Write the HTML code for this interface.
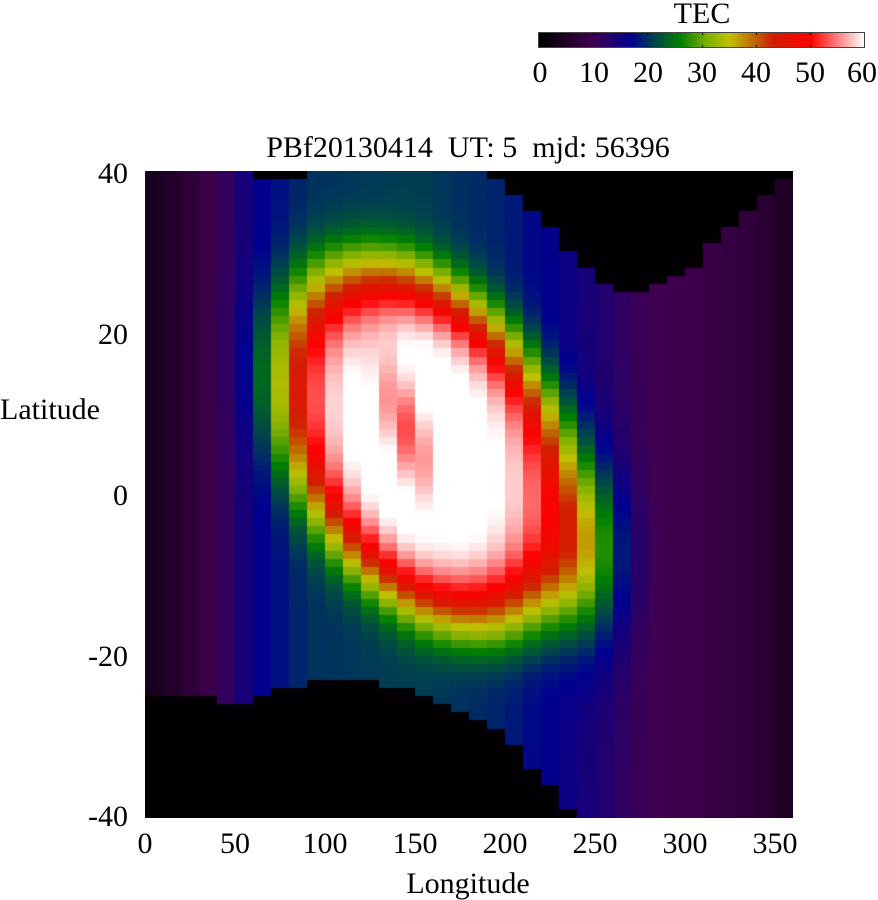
<!DOCTYPE html><html><head><style>
body{margin:0;background:#fff;width:878px;height:900px;position:relative;overflow:hidden;font-family:"Liberation Serif",serif;}
.t{position:absolute;font-size:30px;color:#000;white-space:nowrap;line-height:1;transform:translate(-50%,-50%);}
.r{position:absolute;font-size:30px;color:#000;white-space:nowrap;line-height:1;transform:translate(-100%,-50%);}
canvas{position:absolute;}
</style></head><body>
<canvas id="c" width="648" height="647" style="left:145px;top:171px"></canvas>
<canvas id="cb" width="325" height="14" style="left:539px;top:33px;outline:1px solid #444"></canvas>
<div class="t" style="left:702px;top:14px">TEC</div>
<div class="t" style="left:540px;top:73px">0</div>
<div class="t" style="left:594px;top:73px">10</div>
<div class="t" style="left:648px;top:73px">20</div>
<div class="t" style="left:702px;top:73px">30</div>
<div class="t" style="left:756px;top:73px">40</div>
<div class="t" style="left:810px;top:73px">50</div>
<div class="t" style="left:862px;top:73px">60</div>
<div class="t" style="left:468px;top:148px">PBf20130414&nbsp; UT: 5&nbsp; mjd: 56396</div>
<div class="r" style="left:128px;top:174px">40</div>
<div class="r" style="left:128px;top:335px">20</div>
<div class="r" style="left:128px;top:496px">0</div>
<div class="r" style="left:128px;top:657px">-20</div>
<div class="r" style="left:128px;top:817px">-40</div>
<div class="t" style="left:50px;top:410px">Latitude</div>
<div class="t" style="left:145px;top:844px">0</div>
<div class="t" style="left:235px;top:844px">50</div>
<div class="t" style="left:325px;top:844px">100</div>
<div class="t" style="left:415px;top:844px">150</div>
<div class="t" style="left:505px;top:844px">200</div>
<div class="t" style="left:595px;top:844px">250</div>
<div class="t" style="left:685px;top:844px">300</div>
<div class="t" style="left:775px;top:844px">350</div>
<div class="t" style="left:468px;top:884px">Longitude</div>
<script>
var stops=[[0,0,0,0],[10,64,0,80],[17,0,0,144],[21,0,64,80],[26,0,128,0],[31,128,176,0],[35,192,192,0],[40,192,96,0],[43,208,32,0],[50,255,0,0],[60,255,255,255]];
function col(v){v=Math.max(0,Math.min(60,v));for(var i=1;i<stops.length;i++){if(v<=stops[i][0]){var a=stops[i-1],b=stops[i],t=(v-a[0])/(b[0]-a[0]);return 'rgb('+[1,2,3].map(function(k){return Math.round(a[k]+(b[k]-a[k])*t)}).join(',')+')';}}return '#fff';}
function interp(tab,x){for(var i=1;i<tab.length;i++){if(x<=tab[i][0]){var a=tab[i-1],b=tab[i];return a[1]+(b[1]-a[1])*(x-a[0])/(b[0]-a[0]);}}return tab[tab.length-1][1];}
var broad=[[0,3],[20,6],[40,10],[60,16],[90,20],[150,21],[200,19],[250,14],[280,10],[310,9],[340,7],[360,4]];
var top_=[[0,41],[55,41],[60,39],[90,39],[95,41],[185,41],[190,40],[200,38],[210,36],[220,34],[230,31],[240,29],[250,27],[260,25.5],[270,25],[280,25],[290,26],[300,27],[310,29],[320,32],[330,34],[340,36],[350,38],[360,40]];
var bot=[[0,-25],[30,-25],[50,-26],[60,-25],[80,-24],[100,-23],[120,-23],[140,-24],[160,-25],[180,-27],[200,-30],[210,-32],[220,-35],[230,-37],[240,-41],[360,-41]];
function f(lon,lat){
 if(lat>interp(top_,lon)||lat<interp(bot,lon))return 0.5;
 var v=interp(broad,lon);
 var lc=6-0.04*(lon-155);
 var c=157-0.8*(lat-6);var dx=(lon-c)/78,dy=(lat-lc)/21.5;var r=Math.sqrt(dx*dx+dy*dy);
 v+=42*Math.exp(-Math.pow(r,5));
 var ex=(lon-245)/22,ey=(lat+8)/11;v+=13*Math.exp(-(ex*ex+ey*ey));
 var hx=(lon-145+ (lat-8)*1.2)/12,hy=(lat-8)/9;v-=10*Math.exp(-(hx*hx+hy*hy));
 return v;}
var ctx=document.getElementById('c').getContext('2d');
var H=647/80;
for(var i=0;i<36;i++)for(var j=0;j<80;j++){var lat=40-j-0.5,lon=i*10+5;ctx.fillStyle=col(f(lon,lat));ctx.fillRect(i*18,Math.floor(j*H),18,Math.ceil(H)+1);}
var cb=document.getElementById('cb').getContext('2d');
for(var x=0;x<325;x++){cb.fillStyle=col(x/325*60);cb.fillRect(x,0,1,14);}
cb.fillStyle='#000';for(var k=1;k<6;k++){cb.fillRect(Math.round(k*325/6),0,1,2);cb.fillRect(Math.round(k*325/6),12,1,2);}
</script>
</body></html>
